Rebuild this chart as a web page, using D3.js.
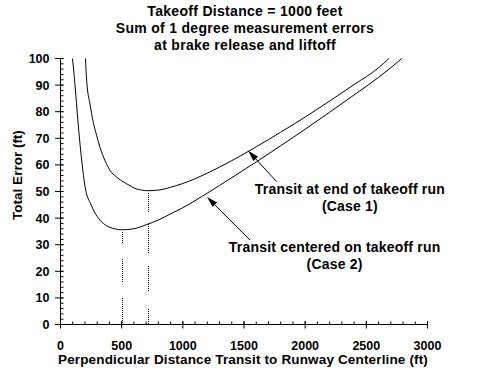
<!DOCTYPE html>
<html><head><meta charset="utf-8">
<script src="https://cdn.jsdelivr.net/npm/d3@7"></script>
<style>
html,body{margin:0;padding:0;background:#fff;}
svg{display:block;}
text{font-family:"Liberation Sans",Arial,sans-serif;font-weight:bold;fill:#000;}
</style></head>
<body>
<script>
// ---- data ----
const titleLines = ["Takeoff Distance = 1000 feet", "Sum of 1 degree measurement errors", "at brake release and liftoff"];
const xLabel = "Perpendicular Distance Transit to Runway Centerline (ft)";
const yLabel = "Total Error (ft)";
const xTicks = [0, 500, 1000, 1500, 2000, 2500, 3000];
const yTicks = [0, 10, 20, 30, 40, 50, 60, 70, 80, 90, 100];

// Case 1: transit at end of takeoff run
const case1X = [204, 214, 241, 268, 296, 323, 364, 405, 459, 541, 620, 720, 813, 900, 1000, 1200, 1400, 1600, 1800, 2000, 2200, 2400, 2600, 2685];
const case1Y = [100, 91.6, 82.9, 76.0, 71.0, 66.6, 61.6, 57.9, 55.4, 52.9, 51.0, 50.3, 50.6, 51.6, 53.0, 56.9, 61.6, 66.8, 72.3, 78.0, 84.0, 90.2, 96.5, 100];
// Case 2: transit centered on takeoff run
const case2X = [98, 110, 125, 150, 175, 200, 250, 300, 350, 400, 450, 500, 600, 700, 800, 900, 1000, 1200, 1400, 1600, 1800, 2000, 2200, 2400, 2600, 2790];
const case2Y = [100, 94.5, 86.5, 72.5, 61.0, 52.0, 45.0, 40.6, 38.0, 36.6, 35.9, 35.6, 36.0, 37.5, 39.3, 41.6, 43.9, 49.4, 55.2, 61.1, 67.2, 73.4, 79.8, 86.3, 92.9, 100];

// minimum markers (dotted drop lines)
const minX = [500, 717];
const minY = [35.6, 50.3];

// annotations
const annoText = [["Transit at end of takeoff run", "(Case 1)"], ["Transit centered on takeoff run", "(Case 2)"]];
const annoTextX = [2366, 2241];
const annoTextY = [48.9, 27.1];
const arrowTipX = [1535, 1198], arrowTipY = [65.3, 47.9];
const arrowTailX = [1767, 1549], arrowTailY = [53.7, 31.8];

// ---- drawing ----
const W = 500, H = 380;
const svg = d3.select("body").append("svg").attr("width", W).attr("height", H);
const x = d3.scaleLinear().domain([0, 3000]).range([60.5, 427.5]);
const y = d3.scaleLinear().domain([0, 100]).range([324.5, 58.5]);

// title
svg.append("g").selectAll("text").data(titleLines).join("text")
  .attr("x", 245).attr("y", (d, i) => 16 + i * 17)
  .attr("text-anchor", "middle").attr("font-size", 14).attr("letter-spacing", 0.3).text(d => d);

// axes
const xAxis = svg.append("g").attr("transform", `translate(0,${y(0)})`);
xAxis.append("line").attr("x1", x(0)).attr("x2", x(3000)).attr("stroke", "#000");
xAxis.selectAll(".minor").data(d3.range(0, 3001, 100)).join("line")
  .attr("x1", d => x(d)).attr("x2", d => x(d)).attr("y1", 0).attr("y2", -3).attr("stroke", "#000");
xAxis.selectAll(".major").data(xTicks).join("line")
  .attr("x1", d => x(d)).attr("x2", d => x(d)).attr("y1", -3.5).attr("y2", 4).attr("stroke", "#000");
xAxis.selectAll("text").data(xTicks).join("text")
  .attr("x", d => x(d)).attr("y", 25).attr("text-anchor", "middle").attr("font-size", 12.5).text(d => d);

const yAxis = svg.append("g").attr("transform", `translate(${x(0)},0)`);
yAxis.append("line").attr("y1", y(0)).attr("y2", y(100)).attr("stroke", "#000");
yAxis.selectAll(".minor").data(d3.range(0, 101, 2)).join("line")
  .attr("y1", d => y(d)).attr("y2", d => y(d)).attr("x1", 0).attr("x2", 3).attr("stroke", "#000");
yAxis.selectAll(".major").data(yTicks).join("line")
  .attr("y1", d => y(d)).attr("y2", d => y(d)).attr("x1", -5.5).attr("x2", 3).attr("stroke", "#000");
yAxis.selectAll("text").data(yTicks).join("text")
  .attr("x", -11).attr("y", d => y(d) + 4.5).attr("text-anchor", "end").attr("font-size", 12.5).text(d => d);

svg.append("text").attr("x", 243).attr("y", 364).attr("text-anchor", "middle").attr("font-size", 13.5).attr("letter-spacing", 0.15).text(xLabel);
svg.append("text").attr("transform", "translate(22,175) rotate(-90)").attr("text-anchor", "middle").attr("font-size", 13.5).text(yLabel);

// dotted drop lines
function dots(segs) {
  const a = [];
  for (let i = 0; i < segs.length; i += 2) {
    const on = segs[i], off = segs[i + 1] || 0;
    const n = Math.max(1, Math.round(on / 2));
    for (let k = 0; k < n; k++) { a.push(1); a.push(k === n - 1 ? off + 1 : 1); }
  }
  return a.join(" ");
}
const dashSegs = [[12, 15, 23, 15, 40, 0], [20, 11, 30, 12, 25, 17, 20, 0]];
svg.append("g").selectAll("line").data(minX).join("line")
  .attr("x1", d => Math.round(x(d)) + 0.5).attr("x2", d => Math.round(x(d)) + 0.5)
  .attr("y1", (d, i) => y(minY[i]) + 2).attr("y2", y(0) - 1)
  .attr("stroke", "#000").attr("stroke-dasharray", (d, i) => dots(dashSegs[i]))
  .attr("shape-rendering", "crispEdges");

// curves
const line = d3.line().x(d => x(d[0])).y(d => y(d[1])).curve(d3.curveMonotoneX);
const series = [d3.zip(case1X, case1Y), d3.zip(case2X, case2Y)];
svg.append("g").selectAll("path").data(series).join("path")
  .attr("d", line).attr("fill", "none").attr("stroke", "#000").attr("stroke-width", 1);

// annotations
const ag = svg.append("g");
annoText.forEach((lines, i) => {
  ag.append("g").selectAll("text").data(lines).join("text")
    .attr("x", x(annoTextX[i])).attr("y", (d, j) => y(annoTextY[i]) + j * 16.5)
    .attr("text-anchor", "middle").attr("font-size", 14).attr("letter-spacing", 0.2).text(d => d);
  const tx = x(arrowTipX[i]), ty = y(arrowTipY[i]);
  const sx = x(arrowTailX[i]), sy = y(arrowTailY[i]);
  const ang = Math.atan2(sy - ty, sx - tx);
  const L = 11, hw = 3.2;
  const bx = tx + L * Math.cos(ang), by = ty + L * Math.sin(ang);
  ag.append("line").attr("x1", sx).attr("y1", sy).attr("x2", bx).attr("y2", by).attr("stroke", "#000");
  const px = -Math.sin(ang) * hw, py = Math.cos(ang) * hw;
  ag.append("path").attr("d", `M${tx},${ty}L${bx + px},${by + py}L${bx - px},${by - py}Z`).attr("fill", "#000");
});
</script>
</body></html>
